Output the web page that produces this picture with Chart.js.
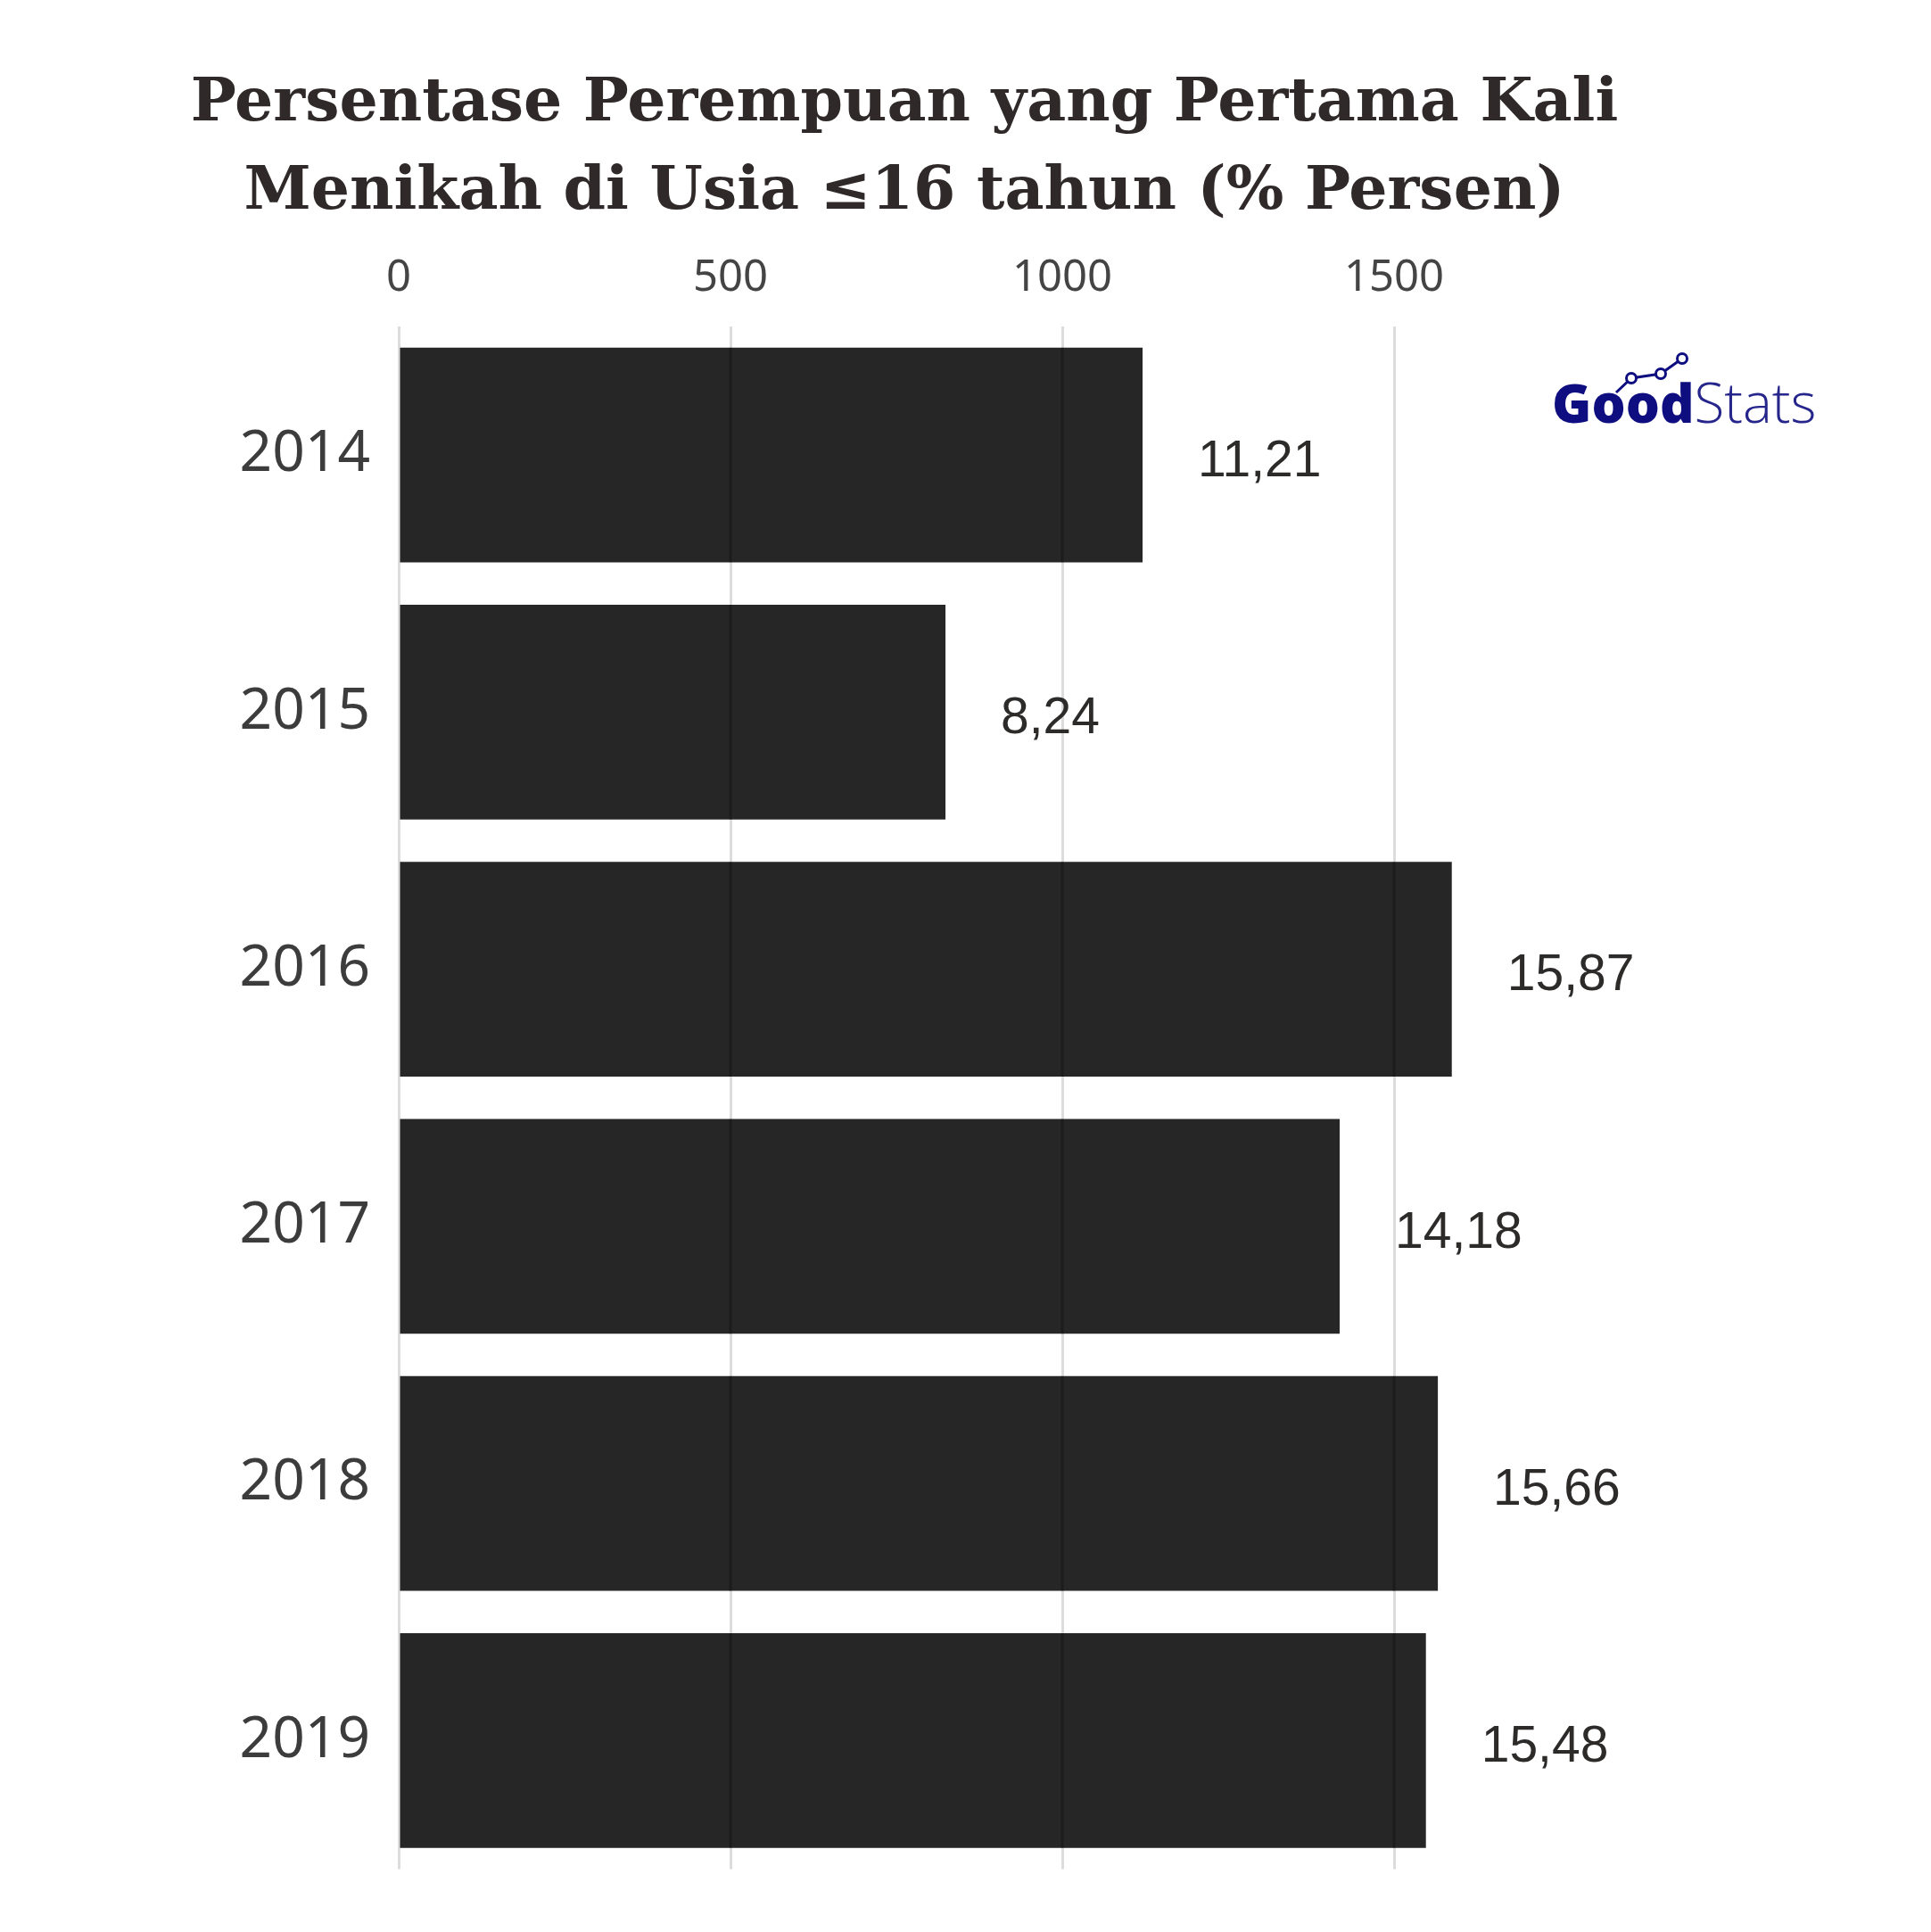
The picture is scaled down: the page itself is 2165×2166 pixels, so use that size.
<!DOCTYPE html>
<html>
<head>
<meta charset="utf-8">
<script src="https://cdn.jsdelivr.net/npm/chart.js@4"></script>
<style>
    html, body { margin: 0; padding: 0; background: #ffffff; }
    #wrap { width: 2165px; height: 2166px; position: relative; }
</style>
</head>
<body>
<div id="wrap"><canvas id="chart"></canvas></div>
<script>
const years = ['2014', '2015', '2016', '2017', '2018', '2019'];
const nilai = [1121, 824, 1587, 1418, 1566, 1548];
const labelNilai = ['11,21', '8,24', '15,87', '14,18', '15,66', '15,48'];
const tickValues = [0, 500, 1000, 1500];
const judul = ['Persentase Perempuan yang Pertama Kali', 'Menikah di Usia \u226416 tahun (% Persen)'];

// title drawn by hand, it sits left of the plot centre in the original
const titlePlugin = {
    id: 'judul',
    afterDraw(chart) {
        const ctx = chart.ctx;
        ctx.save();
        ctx.fillStyle = '#2f2929';
        ctx.font = 'bold 68px "DejaVu Serif"';
        ctx.textAlign = 'center';
        ctx.textBaseline = 'alphabetic';
        ctx.fillText(judul[0], 1014, 135);
        ctx.fillText(judul[1], 1014, 234);
        ctx.restore();
    }
};

const logoPlugin = {
    id: 'logo',
    afterDraw(chart) {
        const ctx = chart.ctx;
        ctx.save();
        ctx.textBaseline = 'alphabetic';
        ctx.textAlign = 'left';
        ctx.fillStyle = '#0e0e80';
        ctx.font = '800 60px "Open Sans"';
        ctx.fillText('Good', 1740, 474);
        const w = ctx.measureText('Good').width;
        ctx.fillStyle = '#25258c';
        ctx.font = '300 62px "Open Sans"';
        ctx.fillText('Stats', 1740 + w, 474);
        // little line chart over the "od"
        const pts = [[1812, 440], [1829, 424], [1862, 419], [1886, 402]];
        ctx.strokeStyle = '#0e0e80';
        ctx.lineWidth = 3;
        ctx.beginPath();
        pts.forEach((p, i) => i ? ctx.lineTo(p[0], p[1]) : ctx.moveTo(p[0], p[1]));
        ctx.stroke();
        pts.slice(1).forEach(p => {
            ctx.beginPath();
            ctx.arc(p[0], p[1], 5.5, 0, Math.PI * 2);
            ctx.fillStyle = '#ffffff';
            ctx.fill();
            ctx.stroke();
        });
        ctx.restore();
    }
};

// value labels + darker grid lines showing through the bars
const barExtras = {
    id: 'barExtras',
    afterDatasetsDraw(chart) {
        const ctx = chart.ctx;
        const xScale = chart.scales.x;
        const bars = chart.getDatasetMeta(0).data;
        ctx.save();
        ctx.strokeStyle = 'rgba(0,0,0,0.25)';
        ctx.lineWidth = 3;
        bars.forEach(bar => {
            const {x, y, base, height} = bar.getProps(['x', 'y', 'base', 'height'], true);
            xScale.ticks.forEach(t => {
                const px = xScale.getPixelForValue(t.value);
                if (px > base + 2 && px < x - 2) {
                    ctx.beginPath();
                    ctx.moveTo(px, y - height / 2);
                    ctx.lineTo(px, y + height / 2);
                    ctx.stroke();
                }
            });
        });
        ctx.fillStyle = '#2d2a2a';
        ctx.font = '57px "Liberation Sans", Arial, sans-serif';
        ctx.textAlign = 'left';
        ctx.textBaseline = 'middle';
        bars.forEach((bar, i) => {
            ctx.fillText(labelNilai[i], bar.x + 62, bar.y + 8);
        });
        ctx.restore();
    }
};

const chart = new Chart(document.getElementById('chart'), {
    type: 'bar',
    data: {
        labels: years,
        datasets: [{
            data: nilai,
            backgroundColor: '#262626',
            borderWidth: 0,
            barPercentage: 0.835,
            categoryPercentage: 1
        }]
    },
    options: {
        indexAxis: 'y',
        responsive: true,
        maintainAspectRatio: false,
        devicePixelRatio: 1,
        animation: false,
        layout: { padding: { top: 0, left: 0, right: 230, bottom: 26 } },
        plugins: {
            legend: { display: false },
            tooltip: { enabled: false },
            title: { display: false }
        },
        scales: {
            x: {
                position: 'top',
                min: 0,
                max: 2000,
                afterBuildTicks: scale => { scale.ticks = tickValues.map(v => ({ value: v })); },
                afterFit: scale => { scale.height = 366; },
                border: { display: false },
                grid: { color: '#dcdcdc', lineWidth: 3, drawTicks: false },
                ticks: {
                    padding: 25,
                    color: '#444444',
                    font: { family: 'Noto Sans', size: 49 },
                    callback: v => String(v)
                }
            },
            y: {
                afterFit: scale => { scale.width = 447; },
                border: { display: false },
                grid: { display: false, drawTicks: false },
                ticks: {
                    padding: 32,
                    color: '#3c3c3c',
                    font: { family: 'Noto Sans', size: 64 }
                }
            }
        }
    },
    plugins: [barExtras, titlePlugin, logoPlugin]
});
</script>
</body>
</html>
